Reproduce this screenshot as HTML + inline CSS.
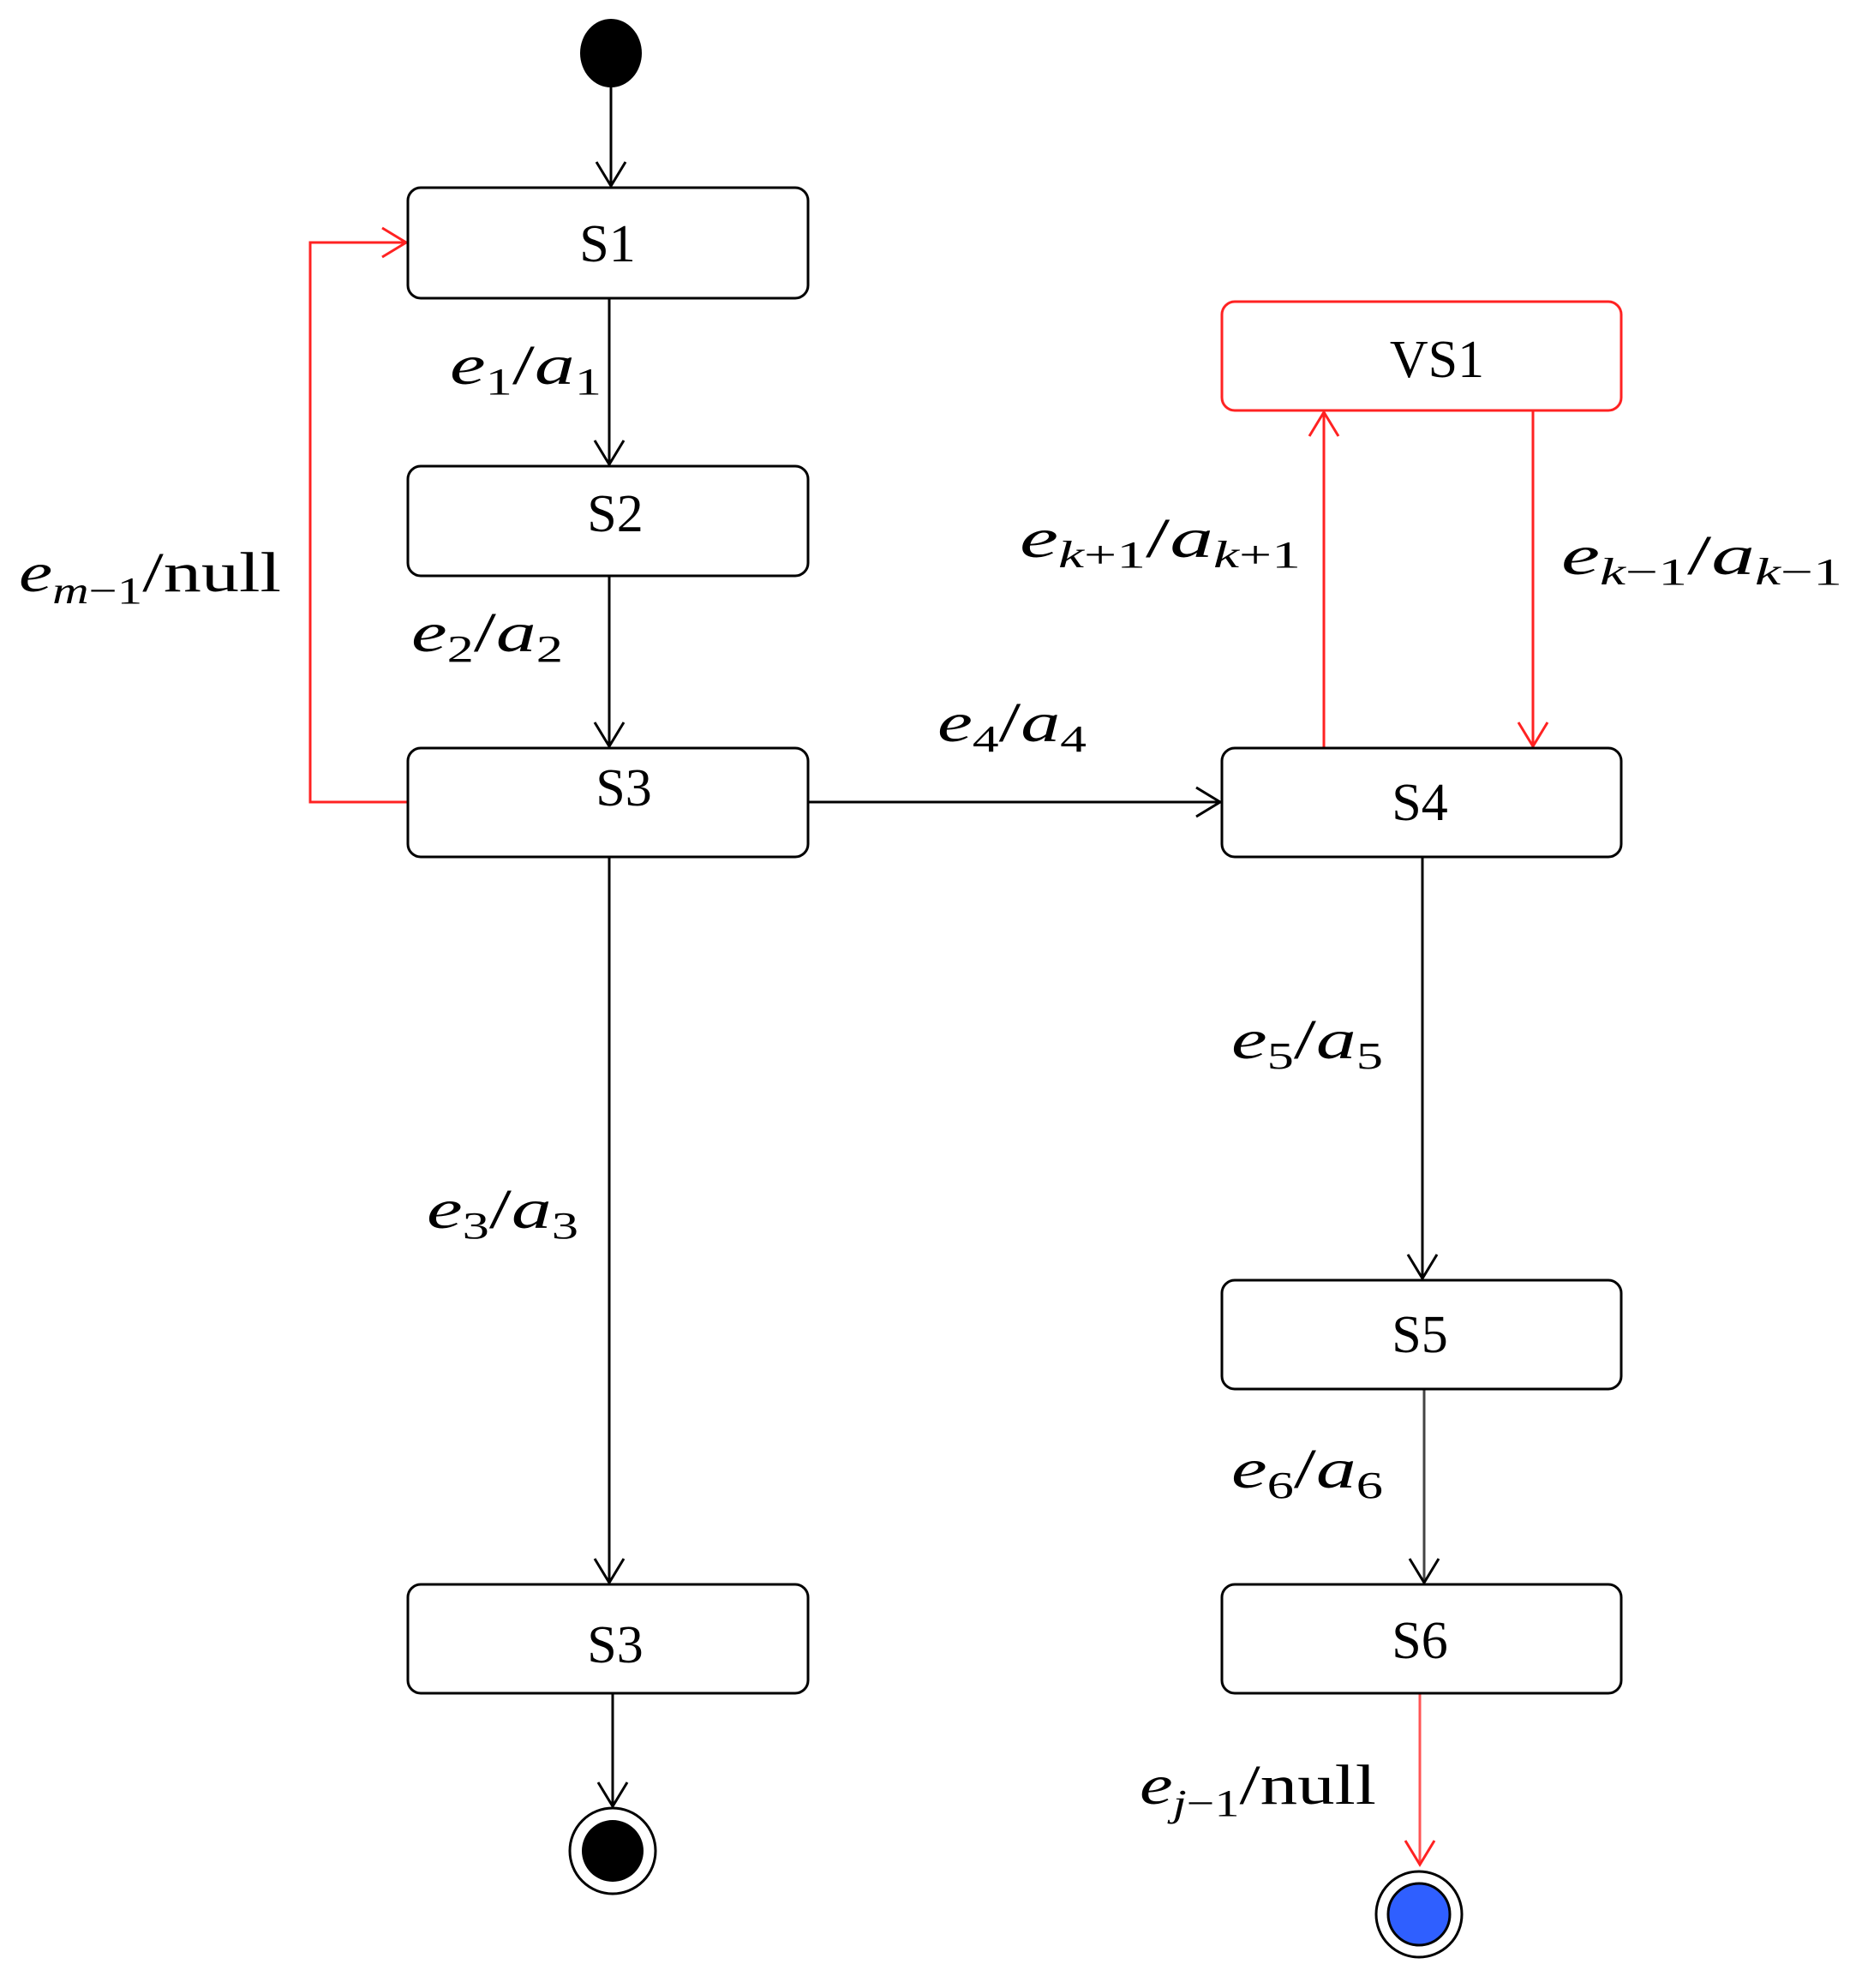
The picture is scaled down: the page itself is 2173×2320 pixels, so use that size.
<!DOCTYPE html>
<html><head><meta charset="utf-8"><style>html,body{margin:0;padding:0;background:#fff;}svg{display:block}</style></head>
<body>
<svg width="2173" height="2320" viewBox="0 0 2173 2320" xmlns="http://www.w3.org/2000/svg">
<defs>
<marker id="ab" markerWidth="40" markerHeight="40" refX="0" refY="0" viewBox="-30 -20 32 40" markerUnits="userSpaceOnUse" orient="auto"><path d="M-28,-17 L0,0 L-28,17" fill="none" stroke="#000" stroke-width="3"/></marker>
<marker id="ar" markerWidth="40" markerHeight="40" refX="0" refY="0" viewBox="-30 -20 32 40" markerUnits="userSpaceOnUse" orient="auto"><path d="M-28,-17 L0,0 L-28,17" fill="none" stroke="#f22" stroke-width="3"/></marker>
</defs>
<g fill="none" stroke-width="3">
<line x1="713" y1="90" x2="713" y2="217" stroke="#000" marker-end="url(#ab)"/>
<line x1="711" y1="348" x2="711" y2="542" stroke="#000" marker-end="url(#ab)"/>
<line x1="711" y1="672" x2="711" y2="871" stroke="#000" marker-end="url(#ab)"/>
<line x1="943" y1="936" x2="1424" y2="936" stroke="#000" marker-end="url(#ab)"/>
<line x1="711" y1="1000" x2="711" y2="1847" stroke="#000" marker-end="url(#ab)"/>
<line x1="1660" y1="1000" x2="1660" y2="1492" stroke="#000" marker-end="url(#ab)"/>
<line x1="1662" y1="1621" x2="1662" y2="1847" stroke="#444" marker-end="url(#ab)"/>
<line x1="715" y1="1976" x2="715" y2="2108" stroke="#000" marker-end="url(#ab)"/>
<polyline points="484,936 362,936 362,283 474,283" stroke="#f22" marker-end="url(#ar)"/>
<line x1="1545" y1="873" x2="1545" y2="481" stroke="#f22" marker-end="url(#ar)"/>
<line x1="1789" y1="479" x2="1789" y2="871" stroke="#f22" marker-end="url(#ar)"/>
<line x1="1657" y1="1976" x2="1657" y2="2176" stroke="#f55" marker-end="url(#ar)"/>
<rect x="476" y="219" width="467" height="129" rx="15" fill="#fff" stroke="#000"/>
<rect x="476" y="544" width="467" height="128" rx="15" fill="#fff" stroke="#000"/>
<rect x="476" y="873" width="467" height="127" rx="15" fill="#fff" stroke="#000"/>
<rect x="476" y="1849" width="467" height="127" rx="15" fill="#fff" stroke="#000"/>
<rect x="1426" y="873" width="466" height="127" rx="15" fill="#fff" stroke="#000"/>
<rect x="1426" y="352" width="466" height="127" rx="15" fill="#fff" stroke="#f22"/>
<rect x="1426" y="1494" width="466" height="127" rx="15" fill="#fff" stroke="#000"/>
<rect x="1426" y="1849" width="466" height="127" rx="15" fill="#fff" stroke="#000"/>
</g>
<ellipse cx="713" cy="62" rx="36" ry="40" fill="#000"/>
<circle cx="715" cy="2160" r="50" fill="#fff" stroke="#000" stroke-width="3"/>
<circle cx="715" cy="2160" r="36" fill="#000"/>
<circle cx="1656" cy="2234" r="50" fill="#fff" stroke="#000" stroke-width="3"/>
<circle cx="1656" cy="2234" r="36" fill="#2f5fff" stroke="#000" stroke-width="3"/>
<g font-family="Liberation Serif, serif" font-size="62" text-anchor="middle" fill="#000">
<text x="709" y="305">S1</text>
<text x="718" y="620">S2</text>
<text x="728" y="940">S3</text>
<text x="718" y="1940">S3</text>
<text x="1657" y="957">S4</text>
<text x="1677" y="440">VS1</text>
<text x="1657" y="1578">S5</text>
<text x="1657" y="1935">S6</text>
</g>
<g font-family="Liberation Serif, serif" font-size="66" fill="#000">
<text x="525" y="448" textLength="177" lengthAdjust="spacingAndGlyphs"><tspan font-style="italic">e</tspan><tspan font-size="44" dy="12">1</tspan><tspan dy="-12">/</tspan><tspan font-style="italic">a</tspan><tspan font-size="44" dy="12">1</tspan></text>
<text x="22" y="690" textLength="306" lengthAdjust="spacingAndGlyphs"><tspan font-style="italic">e</tspan><tspan font-size="44" dy="14" font-style="italic">m</tspan><tspan font-size="44">−1</tspan><tspan dy="-14">/null</tspan></text>
<text x="480" y="760" textLength="177" lengthAdjust="spacingAndGlyphs"><tspan font-style="italic">e</tspan><tspan font-size="44" dy="12">2</tspan><tspan dy="-12">/</tspan><tspan font-style="italic">a</tspan><tspan font-size="44" dy="12">2</tspan></text>
<text x="1094" y="865" textLength="174" lengthAdjust="spacingAndGlyphs"><tspan font-style="italic">e</tspan><tspan font-size="44" dy="12">4</tspan><tspan dy="-12">/</tspan><tspan font-style="italic">a</tspan><tspan font-size="44" dy="12">4</tspan></text>
<text x="1190" y="650" textLength="328" lengthAdjust="spacingAndGlyphs"><tspan font-style="italic">e</tspan><tspan font-size="44" dy="12" font-style="italic">k</tspan><tspan font-size="44">+1</tspan><tspan dy="-12">/</tspan><tspan font-style="italic">a</tspan><tspan font-size="44" dy="12" font-style="italic">k</tspan><tspan font-size="44">+1</tspan></text>
<text x="1822" y="670" textLength="328" lengthAdjust="spacingAndGlyphs"><tspan font-style="italic">e</tspan><tspan font-size="44" dy="12" font-style="italic">k</tspan><tspan font-size="44">−1</tspan><tspan dy="-12">/</tspan><tspan font-style="italic">a</tspan><tspan font-size="44" dy="12" font-style="italic">k</tspan><tspan font-size="44">−1</tspan></text>
<text x="1437" y="1235" textLength="177" lengthAdjust="spacingAndGlyphs"><tspan font-style="italic">e</tspan><tspan font-size="44" dy="12">5</tspan><tspan dy="-12">/</tspan><tspan font-style="italic">a</tspan><tspan font-size="44" dy="12">5</tspan></text>
<text x="498" y="1433" textLength="177" lengthAdjust="spacingAndGlyphs"><tspan font-style="italic">e</tspan><tspan font-size="44" dy="12">3</tspan><tspan dy="-12">/</tspan><tspan font-style="italic">a</tspan><tspan font-size="44" dy="12">3</tspan></text>
<text x="1437" y="1736" textLength="177" lengthAdjust="spacingAndGlyphs"><tspan font-style="italic">e</tspan><tspan font-size="44" dy="12">6</tspan><tspan dy="-12">/</tspan><tspan font-style="italic">a</tspan><tspan font-size="44" dy="12">6</tspan></text>
<text x="1330" y="2105" textLength="276" lengthAdjust="spacingAndGlyphs"><tspan font-style="italic">e</tspan><tspan font-size="44" dy="14" font-style="italic">j</tspan><tspan font-size="44">−1</tspan><tspan dy="-14">/null</tspan></text>
</g>
</svg>
</body></html>
